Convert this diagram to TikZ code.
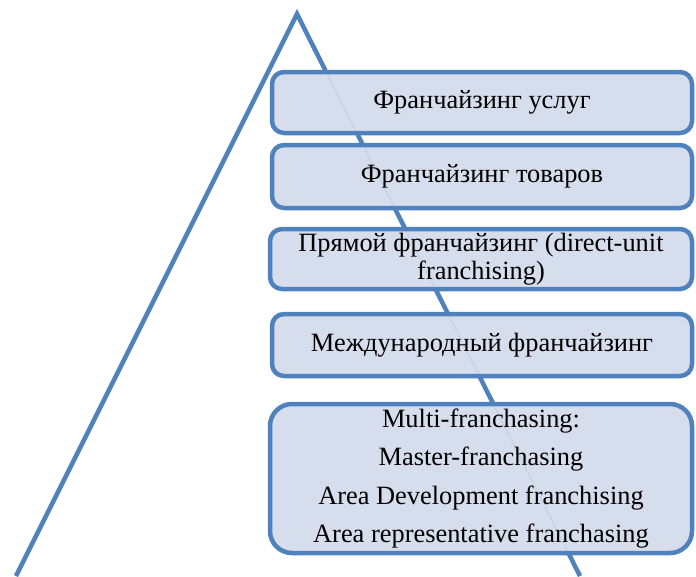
\documentclass[tikz,border=0pt]{standalone}
\usepackage{fontspec}
\setmainfont{Liberation Serif}
\definecolor{edgeblue}{RGB}{79,129,189}
\definecolor{boxfill}{RGB}{214,221,236}
\begin{document}
\begin{tikzpicture}[x=1pt,y=-1pt,
  levelbox/.style={fill=boxfill, draw=edgeblue, line width=4.5pt, inner sep=0pt,
    rounded corners=12pt, minimum width=420pt, align=center,
    font=\fontsize{26.4}{28}\selectfont,
    path picture={\draw[hiddenline] (apex) -- (br);}},
  sideline/.style={draw=edgeblue, line width=4.5pt, line join=miter},
  hiddenline/.style={draw=edgeblue!40, line width=1.5pt, dash pattern=on 1.5pt off 1.5pt}]
\useasboundingbox (0,0) rectangle (696,576);
\clip (0,0) rectangle (696,576);
% pyramid outline
\coordinate (apex) at (297,14);
\coordinate (bl) at (16,576);
\coordinate (br) at (580,576);
\draw[sideline] (bl) -- (apex) -- (br);
% level boxes; the pyramid edge shows faintly through each fill
\node[levelbox, minimum height=61pt] (services) at (482,102.5) {Франчайзинг услуг};
\node[levelbox, minimum height=63pt] (goods) at (482,176.5) {Франчайзинг товаров};
\node[levelbox, minimum height=60pt, minimum width=422pt] (direct) at (481,259)
  {Прямой франчайзинг (direct-unit\\franchising)};
\node[levelbox, minimum height=62pt] (intl) at (482,345) {Международный франчайзинг};
\node[levelbox, minimum height=149pt, minimum width=422pt, rounded corners=22pt,
  font=\fontsize{26.4}{38.3}\selectfont] (multi) at (481,478.5)
  {Multi-franchasing:\\Master-franchasing\\ Area Development franchising\\Area representative franchasing};
\end{tikzpicture}
\end{document}
